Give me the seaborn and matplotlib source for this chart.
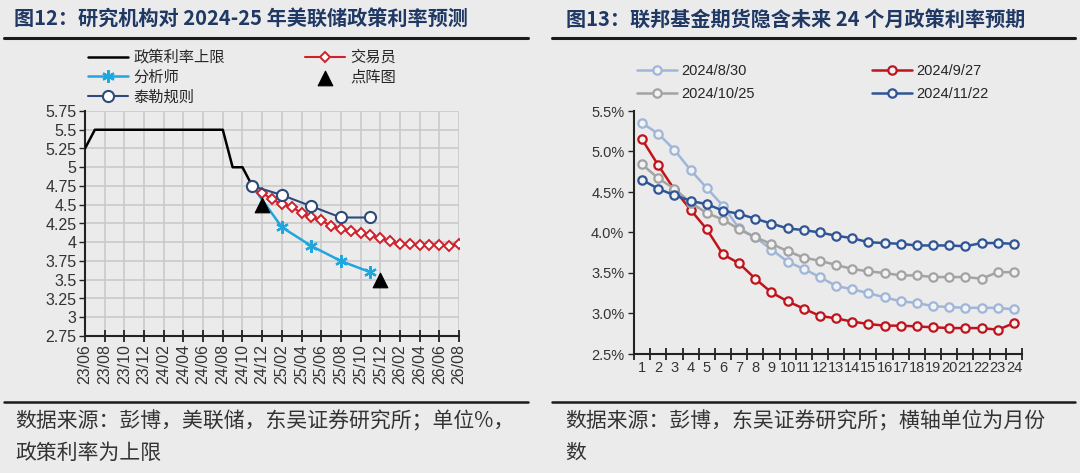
import pandas as pd
import seaborn as sns
import matplotlib.pyplot as plt
from matplotlib.lines import Line2D
from matplotlib.ticker import FuncFormatter

BG = '#ebebeb'
CJK = ['Noto Sans CJK SC', 'DejaVu Sans']

# ---- left chart: research forecasts of the Fed policy rate (upper bound) ----
months = pd.period_range('2023-06', '2026-08', freq='M').strftime('%y/%m').tolist()

policy_months = months[:18]
policy_rate = [5.25, 5.5, 5.5, 5.5, 5.5, 5.5, 5.5, 5.5, 5.5, 5.5, 5.5, 5.5,
               5.5, 5.5, 5.5, 5.0, 5.0, 4.75]

trader_months = months[18:]
trader_rate = [4.66, 4.57, 4.51, 4.47, 4.39, 4.33, 4.29, 4.22, 4.17, 4.15, 4.12,
               4.09, 4.06, 4.01, 3.98, 3.97, 3.96, 3.965, 3.965, 3.95, 3.98]

analyst_months = ['24/11', '25/02', '25/05', '25/08', '25/11']
analyst_rate = [4.75, 4.20, 3.95, 3.75, 3.60]

taylor_months = ['24/11', '25/02', '25/05', '25/08', '25/11']
taylor_rate = [4.75, 4.63, 4.48, 4.33, 4.33]

dot_months = ['24/12', '25/12']
dot_rate = [4.5, 3.5]

# ---- right chart: fed funds futures implied path, next 24 months ----
horizon = list(range(1, 25))
path_0830 = [5.35, 5.22, 5.02, 4.77, 4.55, 4.33, 4.05, 3.94, 3.79, 3.64, 3.55, 3.45,
             3.34, 3.30, 3.25, 3.20, 3.15, 3.13, 3.09, 3.08, 3.07, 3.07, 3.07, 3.05]
path_0927 = [5.15, 4.83, 4.53, 4.28, 4.04, 3.73, 3.62, 3.43, 3.26, 3.15, 3.06, 2.97,
             2.94, 2.90, 2.87, 2.85, 2.85, 2.84, 2.83, 2.82, 2.82, 2.82, 2.80, 2.88]
path_1025 = [4.84, 4.67, 4.54, 4.37, 4.24, 4.16, 4.04, 3.94, 3.86, 3.77, 3.69, 3.65,
             3.60, 3.55, 3.52, 3.50, 3.47, 3.47, 3.45, 3.45, 3.45, 3.43, 3.51, 3.51]
path_1122 = [4.65, 4.54, 4.46, 4.39, 4.35, 4.27, 4.23, 4.17, 4.11, 4.05, 4.03, 4.00,
             3.96, 3.93, 3.88, 3.87, 3.86, 3.84, 3.84, 3.84, 3.83, 3.87, 3.87, 3.86]
path_labels = ['2024/8/30', '2024/9/27', '2024/10/25', '2024/11/22']
path_colors = ['#9fb6d9', '#c0141c', '#a3a3a3', '#2f5597']

sns.set_theme(style='white')
plt.rcParams['font.family'] = ['Liberation Sans', 'Noto Sans CJK SC']
plt.rcParams['axes.unicode_minus'] = False

fig = plt.figure(figsize=(10.8, 4.73), dpi=100, facecolor=BG)

# ---------------- left ----------------
ax1 = fig.add_axes([85 / 1080, 1 - 336 / 473, 374 / 1080, 225 / 473])
ax1.set_facecolor(BG)


def pos(labels):
    return [months.index(m) for m in labels]


sns.lineplot(x=pos(policy_months), y=policy_rate, ax=ax1, color='black', lw=1.8,
             label='政策利率上限', zorder=3)
sns.lineplot(x=pos(analyst_months), y=analyst_rate, ax=ax1, color='#1fa6dc', lw=1.8,
             marker=(6, 2, 0), markersize=9, markeredgewidth=1.6, markeredgecolor='#1fa6dc',
             label='分析师', zorder=4)
sns.lineplot(x=pos(taylor_months), y=taylor_rate, ax=ax1, color='#2f4a7a', lw=1.5,
             marker='o', markersize=8, markerfacecolor='white', markeredgecolor='#2f4a7a',
             markeredgewidth=1.5, label='泰勒规则', zorder=5)
sns.lineplot(x=pos(trader_months), y=trader_rate, ax=ax1, color='#d0202a', lw=1.5,
             marker='D', markersize=5.5, markerfacecolor='white', markeredgecolor='#d0202a',
             markeredgewidth=1.4, label='交易员', zorder=4)
sns.scatterplot(x=pos(dot_months), y=dot_rate, ax=ax1, color='black', marker='^', s=110,
                edgecolor='black', label='点阵图', zorder=6)

ax1.set_xlim(0, len(months) - 1)
ax1.set_ylim(2.75, 5.75)
ax1.set_xticks(range(0, len(months), 2))
ax1.set_xticklabels(months[::2], rotation=90)
ax1.set_yticks([2.75 + 0.25 * i for i in range(13)])
ax1.yaxis.set_major_formatter(FuncFormatter(lambda v, p: f'{v:g}'))
for s in ['top', 'right']:
    ax1.spines[s].set_visible(False)
for s in ['left', 'bottom']:
    ax1.spines[s].set_color('#222222')
    ax1.spines[s].set_linewidth(1.5)
ax1.tick_params(axis='x', direction='inout', length=8, width=1.3, color='#222222',
                labelsize=11.5, labelcolor='#333333', pad=2, bottom=True)
ax1.tick_params(axis='y', direction='out', length=4, width=1.0, color='#222222',
                labelsize=11.5, labelcolor='#333333', pad=2, left=True)
# light grid, every 2 months and every 0.25
ax1.xaxis.grid(True, which='major', color='#cacaca', linewidth=1.2, linestyle='-')
ax1.yaxis.grid(True, which='major', color='#cacaca', linewidth=1.2, linestyle='-')
ax1.set_axisbelow(True)

h, l = ax1.get_legend_handles_labels()
order = ['政策利率上限', '分析师', '泰勒规则', '交易员', '点阵图']
hd = dict(zip(l, h))
ax1.legend([hd[k] for k in order], order, ncol=2, loc='upper left',
           bbox_to_anchor=(88 / 1080, 1 - 49 / 473), bbox_transform=fig.transFigure,
           frameon=False, handlelength=2.6, columnspacing=5.2,
           labelspacing=0.18, handletextpad=0.4, borderpad=0, borderaxespad=0,
           prop={'family': CJK, 'size': 11})

# ---------------- right ----------------
ax2 = fig.add_axes([634 / 1080, 1 - 354 / 473, 388 / 1080, 243 / 473])
ax2.set_facecolor(BG)
for vals, lab, col in zip([path_0830, path_0927, path_1025, path_1122], path_labels, path_colors):
    sns.lineplot(x=horizon, y=vals, ax=ax2, color=col, lw=1.8, marker='o', markersize=6,
                 markerfacecolor='#f2f2f2', markeredgecolor=col, markeredgewidth=1.6,
                 label=lab)
ax2.set_xlim(0.5, 24.5)
ax2.set_ylim(2.5, 5.5)
ax2.set_yticks([2.5 + 0.5 * i for i in range(7)])
ax2.yaxis.set_major_formatter(FuncFormatter(lambda v, p: f'{v:.1f}%'))
ax2.set_xticks([i + 0.5 for i in range(0, 25)])
ax2.set_xticklabels([])
ax2.set_xticks(horizon, minor=True)
ax2.set_xticklabels([str(i) for i in horizon], minor=True)
for s in ['top', 'right']:
    ax2.spines[s].set_visible(False)
for s in ['left', 'bottom']:
    ax2.spines[s].set_color('#222222')
    ax2.spines[s].set_linewidth(1.5)
ax2.tick_params(axis='x', which='major', direction='inout', length=8, width=1.3,
                color='#222222', bottom=True)
ax2.tick_params(axis='x', which='minor', length=0, labelsize=10.5, labelcolor='#333333',
                pad=5, bottom=True)
ax2.tick_params(axis='y', direction='out', length=4, width=1.0, color='#222222',
                labelsize=10.5, labelcolor='#333333', pad=3, left=True)
ax2.grid(False)
h2, l2 = ax2.get_legend_handles_labels()
hd2 = dict(zip(l2, h2))
order2 = ['2024/8/30', '2024/10/25', '2024/9/27', '2024/11/22']
ax2.legend([hd2[k] for k in order2], order2, ncol=2, loc='upper left',
           bbox_to_anchor=(637 / 1080, 1 - 64 / 473),
           bbox_transform=fig.transFigure, frameon=False, fontsize=10.5, handlelength=2.75,
           columnspacing=8.0, labelspacing=0.6, handletextpad=0.3, borderpad=0,
           borderaxespad=0)

# ---------------- titles, rules, footers ----------------
title_kw = dict(fontsize=14.5, fontweight='bold', color='#1f3864', va='center', family=CJK)
fig.text(14 / 1080, 1 - 19 / 473, '图12：研究机构对 2024-25 年美联储政策利率预测', **title_kw)
fig.text(566 / 1080, 1 - 19 / 473, '图13：联邦基金期货隐含未来 24 个月政策利率预期', **title_kw)

for y in [38, 402]:
    lw = 2.2 if y == 38 else 1.8
    fig.add_artist(Line2D([4 / 1080, 528 / 1080], [1 - y / 473] * 2, color='#1a1a1a', lw=lw))
    fig.add_artist(Line2D([552 / 1080, 1075 / 1080], [1 - y / 473] * 2, color='#1a1a1a', lw=lw))

foot_kw = dict(fontsize=15, color='#333333', va='center', family=CJK)
fig.text(15 / 1080, 1 - 421 / 473, '数据来源：彭博，美联储，东吴证券研究所；单位%，', **foot_kw)
fig.text(15 / 1080, 1 - 453 / 473, '政策利率为上限', **foot_kw)
fig.text(565 / 1080, 1 - 421 / 473, '数据来源：彭博，东吴证券研究所；横轴单位为月份', **foot_kw)
fig.text(565 / 1080, 1 - 453 / 473, '数', **foot_kw)

fig.savefig('out.png', dpi=100, facecolor=BG)
